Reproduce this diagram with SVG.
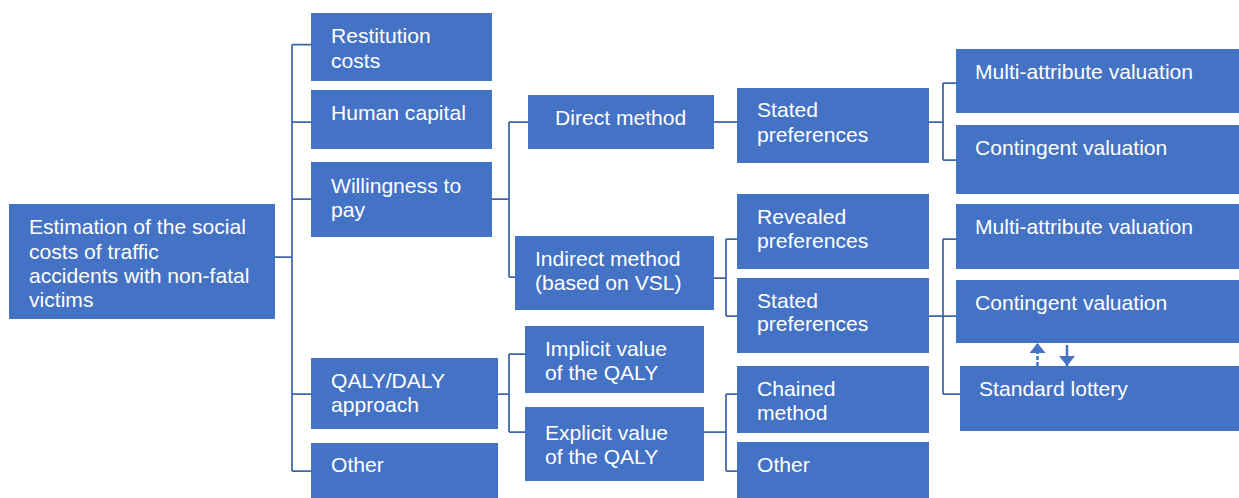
<svg xmlns="http://www.w3.org/2000/svg" width="1239" height="498" viewBox="0 0 1239 498">
<style>
.box{fill:#4472C4;}
.t{font-family:"Liberation Sans",Arial,sans-serif;font-size:21.1px;fill:#ffffff;}
.c{fill:none;stroke:#3F65AA;stroke-width:1.75;}
.a{fill:none;stroke:#4472C4;stroke-width:2.5;}
</style>
<defs>
<marker id="ah" viewBox="0 0 10 10" refX="10" refY="5" markerUnits="userSpaceOnUse" markerWidth="10" markerHeight="16" preserveAspectRatio="none" orient="auto">
<path d="M0,0 L10,5 L0,10 z" fill="#4472C4"/>
</marker>
</defs>
<rect width="1239" height="498" fill="#ffffff"/>
<g id="connectors">
<path class="c" d="M275,257 H292 M292,44.5 V471 M292,44.5 H311 M292,122 H311 M292,199 H311 M292,394 H311 M292,471 H311"/>
<path class="c" d="M492,199 H509 M509,122 V277 M509,122 H528 M509,277 H515"/>
<path class="c" d="M714,122 H737"/>
<path class="c" d="M929,122 H943 M943,83 V160 M943,83 H956 M943,160 H956"/>
<path class="c" d="M714,278 H726 M726,239 V316 M726,239 H737 M726,316 H737"/>
<path class="c" d="M929,316 H956 M943,239 V394 M943,239 H956 M943,394 H960"/>
<path class="c" d="M498,394 H509 M509,354 V432 M509,354 H525 M509,432 H525"/>
<path class="c" d="M704,432 H726 M726,394 V471 M726,394 H737 M726,471 H737"/>
<line class="a" x1="1037.5" y1="366" x2="1037.5" y2="343" stroke-dasharray="4 2" marker-end="url(#ah)"/>
<line class="a" x1="1067" y1="345" x2="1067" y2="366" marker-end="url(#ah)"/>
</g>
<g id="root"><rect class="box" x="9" y="204" width="266" height="115"/>
<text class="t" x="29" y="234">Estimation of the social</text>
<text class="t" x="29" y="258.5">costs of traffic</text>
<text class="t" x="29" y="282.5">accidents with non-fatal</text>
<text class="t" x="29" y="306.5">victims</text></g>
<g id="restitution"><rect class="box" x="311" y="13" width="181" height="68"/>
<text class="t" x="331" y="43">Restitution</text><text class="t" x="331" y="68">costs</text></g>
<g id="human-capital"><rect class="box" x="311" y="90" width="181" height="59"/>
<text class="t" x="331" y="120">Human capital</text></g>
<g id="wtp"><rect class="box" x="311" y="162" width="181" height="75"/>
<text class="t" x="331" y="193">Willingness to</text><text class="t" x="331" y="217">pay</text></g>
<g id="qaly"><rect class="box" x="311" y="358" width="187" height="71"/>
<text class="t" x="331" y="388">QALY/DALY</text><text class="t" x="331" y="412">approach</text></g>
<g id="other1"><rect class="box" x="311" y="443" width="187" height="55"/>
<text class="t" x="331" y="472">Other</text></g>
<g id="direct"><rect class="box" x="528" y="95" width="186" height="54"/>
<text class="t" x="555" y="124.5">Direct method</text></g>
<g id="indirect"><rect class="box" x="515" y="236" width="199" height="74"/>
<text class="t" x="535" y="266">Indirect method</text><text class="t" x="535" y="289.5">(based on VSL)</text></g>
<g id="stated1"><rect class="box" x="737" y="88" width="192" height="75"/>
<text class="t" x="757" y="117">Stated</text><text class="t" x="757" y="141.5">preferences</text></g>
<g id="revealed"><rect class="box" x="737" y="194" width="192" height="75"/>
<text class="t" x="757" y="223.5">Revealed</text><text class="t" x="757" y="247.5">preferences</text></g>
<g id="stated2"><rect class="box" x="737" y="278" width="192" height="75"/>
<text class="t" x="757" y="307.5">Stated</text><text class="t" x="757" y="331">preferences</text></g>
<g id="implicit"><rect class="box" x="525" y="326" width="179" height="67"/>
<text class="t" x="545" y="356">Implicit value</text><text class="t" x="545" y="379.5">of the QALY</text></g>
<g id="explicit"><rect class="box" x="525" y="407" width="179" height="74"/>
<text class="t" x="545" y="439.5">Explicit value</text><text class="t" x="545" y="463.5">of the QALY</text></g>
<g id="chained"><rect class="box" x="737" y="366" width="192" height="67"/>
<text class="t" x="757" y="396">Chained</text><text class="t" x="757" y="419.5">method</text></g>
<g id="other2"><rect class="box" x="737" y="442" width="192" height="56"/>
<text class="t" x="757" y="471.5">Other</text></g>
<g id="multi1"><rect class="box" x="956" y="49" width="283" height="64"/>
<text class="t" x="975" y="79">Multi-attribute valuation</text></g>
<g id="contingent1"><rect class="box" x="956" y="125" width="283" height="69"/>
<text class="t" x="975" y="155">Contingent valuation</text></g>
<g id="multi2"><rect class="box" x="956" y="204" width="283" height="65"/>
<text class="t" x="975" y="233.5">Multi-attribute valuation</text></g>
<g id="contingent2"><rect class="box" x="956" y="280" width="283" height="63"/>
<text class="t" x="975" y="310">Contingent valuation</text></g>
<g id="lottery"><rect class="box" x="960" y="366" width="279" height="65"/>
<text class="t" x="979" y="396">Standard lottery</text></g>
</svg>
